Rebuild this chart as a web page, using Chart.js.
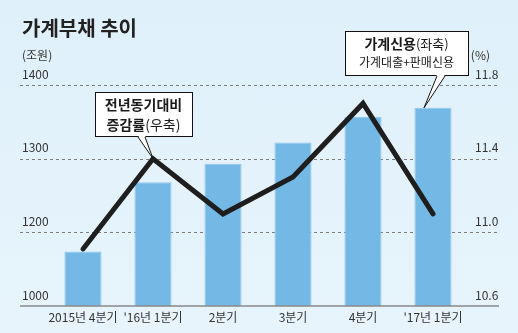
<!DOCTYPE html>
<html>
<head>
<meta charset="utf-8">
<script src="https://cdn.jsdelivr.net/npm/chart.js@4"></script>
<style>
  html, body { margin: 0; padding: 0; }
  body { width: 518px; height: 333px; overflow: hidden; background: linear-gradient(#dff0fa, #e7f4fc); }
</style>
</head>
<body>
<canvas id="debtChart" width="518" height="333"></canvas>
<script>
// quarters on the x axis
var QUARTERS = ['2015년 4분기', "'16년 1분기", '2분기', '3분기', '4분기', "'17년 1분기"];
// 가계신용 (조원), left axis - the axis is broken below 1200
var CREDIT = [1174, 1268, 1293, 1322, 1357, 1369];
// 전년동기대비 증감률 (%), right axis
var GROWTH = [10.91, 11.40, 11.10, 11.30, 11.70, 11.10];
// left axis: the bottom tick stands for 1000 (broken axis)
var LEFT_TICK_LABELS = ['1000', '1200', '1300', '1400'];

var FONT = '"Noto Sans CJK KR", "Noto Sans", sans-serif';

function drawRuns(ctx, runs, cx, cy) {
  var total = 0;
  runs.forEach(function (r) { ctx.font = r[1]; total += ctx.measureText(r[0]).width; });
  var x = cx - total / 2;
  ctx.textAlign = 'left';
  ctx.textBaseline = 'middle';
  runs.forEach(function (r) {
    ctx.font = r[1];
    ctx.fillText(r[0], x, cy);
    x += ctx.measureText(r[0]).width;
  });
}

function callout(ctx, box, tip, baseA, baseB, lines) {
  var bottom = box.y + box.h;
  ctx.save();
  ctx.fillStyle = '#fff';
  ctx.strokeStyle = '#111';
  ctx.lineWidth = 1;
  ctx.fillRect(box.x, box.y, box.w, box.h);
  ctx.strokeRect(box.x + 0.5, box.y + 0.5, box.w, box.h);
  // tail
  ctx.beginPath();
  ctx.moveTo(baseA, bottom - 0.5);
  ctx.lineTo(tip.x, tip.y);
  ctx.lineTo(baseB, bottom - 0.5);
  ctx.closePath();
  ctx.fill();
  ctx.beginPath();
  ctx.moveTo(baseA, bottom + 1);
  ctx.lineTo(tip.x, tip.y);
  ctx.lineTo(baseB, bottom + 1);
  ctx.stroke();
  ctx.fillStyle = '#1a1a1a';
  lines.forEach(function (l) { drawRuns(ctx, l.runs, box.x + box.w / 2, box.y + l.dy); });
  ctx.restore();
}

var framePlugin = {
  id: 'frame',
  beforeDatasetsDraw: function (chart) {
    var ctx = chart.ctx, y = chart.scales.y, y1 = chart.scales.y1;
    var x0 = y.left - 2, x1 = y1.right + 1;
    ctx.save();
    ctx.strokeStyle = '#7c7c7c';
    ctx.lineWidth = 1;
    ctx.setLineDash([3, 3]);
    y.ticks.forEach(function (t) {
      if (t.value === y.min) return;
      var py = Math.round(y.getPixelForValue(t.value)) + 0.5;
      ctx.beginPath();
      ctx.moveTo(x0, py);
      ctx.lineTo(x1, py);
      ctx.stroke();
    });
    ctx.restore();
  },
  afterDatasetsDraw: function (chart) {
    var ctx = chart.ctx, y = chart.scales.y, y1 = chart.scales.y1, area = chart.chartArea;
    var x0 = y.left - 2, x1 = y1.right + 1;
    ctx.save();
    ctx.strokeStyle = '#8a8a8a';
    ctx.lineWidth = 1.5;
    ctx.beginPath();
    ctx.moveTo(x0, area.bottom);
    ctx.lineTo(x1, area.bottom);
    ctx.stroke();

    ctx.fillStyle = '#333';
    ctx.font = '12px ' + FONT;
    ctx.textBaseline = 'middle';
    ctx.textAlign = 'left';
    ctx.fillText('(조원)', y.left, area.top - 30);
    ctx.textAlign = 'right';
    ctx.fillText('(%)', y1.left + 22, area.top - 30);
    ctx.restore();

    var pt = chart.getDatasetMeta(0).data[1];
    callout(ctx, { x: 95, y: 92, w: 97, h: 44 }, { x: pt.x, y: pt.y }, pt.x - 15, pt.x - 8, [
      { dy: 13, runs: [['전년동기대비', 'bold 14px ' + FONT]] },
      { dy: 33, runs: [['증감률', 'bold 14px ' + FONT], ['(우축)', '14px ' + FONT]] }
    ]);

    var bar = chart.getDatasetMeta(1).data[5];
    callout(ctx, { x: 345, y: 31, w: 123, h: 44 }, { x: bar.x - 9, y: bar.y }, bar.x + 4, bar.x + 12, [
      { dy: 13, runs: [['가계신용', 'bold 14px ' + FONT], ['(좌축)', '13px ' + FONT]] },
      { dy: 31, runs: [['가계대출+판매신용', '12px ' + FONT]] }
    ]);
  }
};

new Chart(document.getElementById('debtChart').getContext('2d'), {
  type: 'bar',
  data: {
    labels: QUARTERS,
    datasets: [{
      type: 'line',
      label: '전년동기대비 증감률(우축)',
      data: GROWTH,
      yAxisID: 'y1',
      borderColor: '#1e1e1e',
      borderWidth: 5,
      borderJoinStyle: 'miter',
      borderCapStyle: 'round',
      pointRadius: 0,
      tension: 0,
      fill: false,
      order: 0,
    }, {
      type: 'bar',
      label: '가계신용(좌축)',
      data: CREDIT,
      yAxisID: 'y',
      backgroundColor: '#74b9e6',
      borderColor: '#8cc8ee',
      borderWidth: 1,
      barPercentage: 0.53,
      categoryPercentage: 1.0,
      order: 1,
    }],
  },
  options: {
    responsive: false,
    animation: false,
    devicePixelRatio: 1,
    layout: { padding: { left: 22, right: 20, top: 0, bottom: 0 } },
    scales: {
      x: {
        offset: true,
        grid: { display: false, drawTicks: false },
        border: { display: false },
        ticks: { color: '#333', padding: 4, font: { family: FONT, size: 12 }, maxRotation: 0, autoSkip: false },
        afterFit: function (s) { s.height = 27; },
      },
      y: {
        position: 'left',
        min: 1100,
        max: 1400,
        grid: { display: false, drawTicks: false },
        border: { display: false },
        ticks: {
          stepSize: 100,
          crossAlign: 'far',
          labelOffset: -11,
          padding: 0,
          color: '#333',
          font: { family: FONT, size: 12 },
          callback: function (v, i) { return LEFT_TICK_LABELS[i]; },
        },
        afterFit: function (s) { s.width = 26; },
      },
      y1: {
        position: 'right',
        min: 10.6,
        max: 11.8,
        grid: { display: false, drawTicks: false },
        border: { display: false },
        ticks: {
          stepSize: 0.4,
          crossAlign: 'near',
          labelOffset: -11,
          padding: 7,
          color: '#333',
          font: { family: FONT, size: 12 },
          callback: function (v) { return Number(v).toFixed(1); },
        },
        afterFit: function (s) { s.width = 30; },
      },
    },
    plugins: {
      legend: { display: false },
      tooltip: { enabled: false },
      title: {
        display: true,
        text: '가계부채 추이',
        align: 'start',
        color: '#222',
        font: { family: FONT, size: 20, weight: 'bold' },
        padding: { top: 16, bottom: 45 },
      },
    },
  },
  plugins: [framePlugin],
});
</script>
</body>
</html>
